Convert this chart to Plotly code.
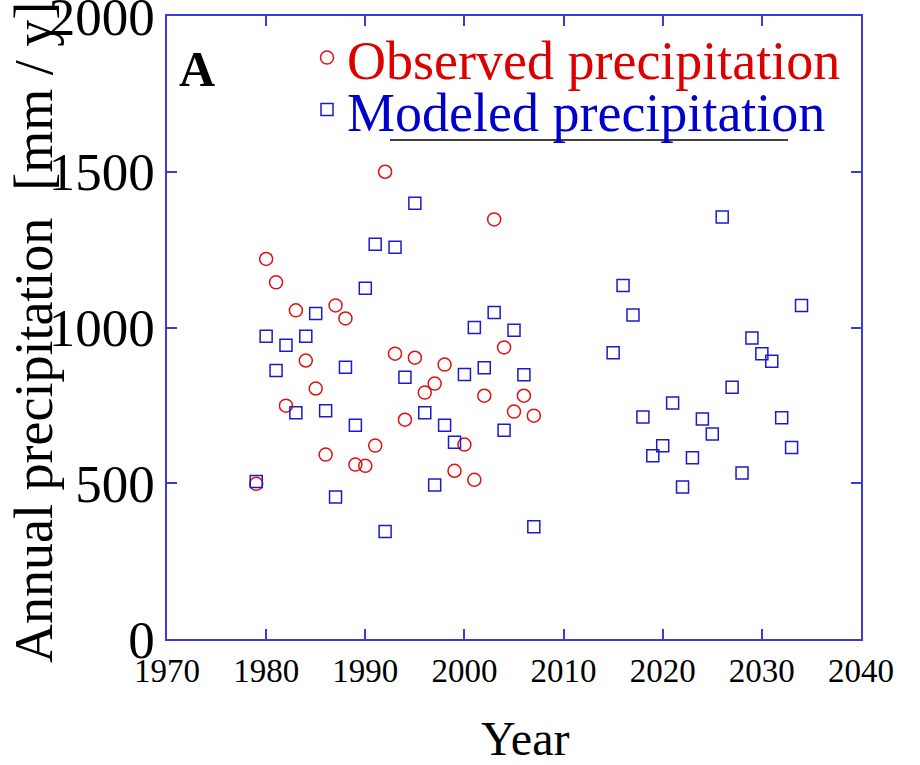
import plotly.graph_objects as go

# Observed annual precipitation (mm/y), 1979-2007
obs_years = list(range(1979, 2008))
obs_precip = [498, 1220, 1145, 749, 1055, 894, 804, 592, 1071, 1029,
              560, 556, 621, 1500, 916, 704, 903, 791, 820, 881,
              540, 624, 511, 781, 1347, 936, 730, 781, 717]

# Modeled annual precipitation (mm/y), 1979-2007 and 2015-2034
mod_years = list(range(1979, 2008)) + list(range(2015, 2035))
mod_precip = [506, 972, 862, 943, 726, 972, 1045, 733, 456, 872,
              686, 1126, 1267, 345, 1258, 840, 1399, 726, 494, 686,
              632, 849, 1000, 871, 1048, 670, 991, 848, 360,
              919, 1135, 1040, 713, 588, 620, 758, 488, 582, 706,
              658, 1355, 808, 533, 966, 916, 892, 710, 615, 1071]

x_ticks = [1970, 1980, 1990, 2000, 2010, 2020, 2030, 2040]
y_ticks = [0, 500, 1000, 1500, 2000]

SERIF = "Liberation Serif, Times New Roman, serif"
RED = "#e01010"
BLUE = "#1a1ad0"
AXIS = "#3a3ae0"

fig = go.Figure()
fig.add_trace(go.Scatter(
    x=obs_years, y=obs_precip, mode="markers", name="Observed precipitation",
    marker=dict(symbol="circle-open", size=13, color=RED, line=dict(width=1.5, color=RED)),
    legend="legend",
))
fig.add_trace(go.Scatter(
    x=mod_years, y=mod_precip, mode="markers", name="Modeled precipitation",
    marker=dict(symbol="square-open", size=12, color=BLUE, line=dict(width=1.5, color=BLUE)),
    legend="legend2",
))

W, H = 920, 765
L, R, T, B = 167, 59, 16, 126
pw, ph = W - L - R, H - T - B

def px_x(px):
    return (px - L) / pw

def px_y(py):
    return (H - B - py) / ph

axis_common = dict(
    showline=True, linecolor=AXIS, linewidth=1.5, mirror="ticks",
    ticks="inside", ticklen=10, tickcolor=AXIS, tickwidth=1.5,
    showgrid=False, zeroline=False, ticklabeloverflow="allow", automargin=False,
)

fig.update_layout(
    width=W, height=H,
    margin=dict(l=L, r=R, t=T, b=B, pad=0, autoexpand=False),
    paper_bgcolor="white", plot_bgcolor="white",
    font=dict(family=SERIF, color="black"),
    xaxis=dict(range=[1970, 2040], tickvals=x_ticks, tickfont=dict(size=33, family=SERIF),
               ticklabelstandoff=2, **axis_common),
    yaxis=dict(range=[0, 2000], tickvals=y_ticks, tickfont=dict(size=53, family=SERIF),
               ticklabelstandoff=0, **axis_common),
    legend=dict(x=px_x(307), y=px_y(58), xanchor="left", yanchor="middle",
                bgcolor="rgba(0,0,0,0)", font=dict(size=54, color="#dd0000", family=SERIF),
                itemsizing="trace"),
    legend2=dict(x=px_x(307), y=px_y(110), xanchor="left", yanchor="middle",
                 bgcolor="rgba(0,0,0,0)", font=dict(size=54, color="#0000cc", family=SERIF),
                 itemsizing="trace"),
    showlegend=True,
)

# Panel letter
fig.add_annotation(text="<b>A</b>", x=px_x(177), y=px_y(39), xref="paper", yref="paper",
                   xanchor="left", yanchor="top", showarrow=False,
                   font=dict(size=50, family=SERIF, color="black"))

# Axis titles
fig.add_annotation(text="Annual precipitation  [mm / y]", textangle=-90,
                   x=px_x(34), y=px_y(333), xref="paper", yref="paper",
                   xanchor="center", yanchor="middle", showarrow=False,
                   font=dict(size=54, family=SERIF, color="black"))
fig.add_annotation(text="Year", x=px_x(525), y=px_y(738), xref="paper", yref="paper",
                   xanchor="center", yanchor="middle", showarrow=False,
                   font=dict(size=48, family=SERIF, color="black"))

# Rule under the second legend entry
fig.add_shape(type="line", xref="paper", yref="paper",
              x0=px_x(390), x1=px_x(788), y0=px_y(140), y1=px_y(140),
              line=dict(color="black", width=1.5))

fig.write_html("out.html")
